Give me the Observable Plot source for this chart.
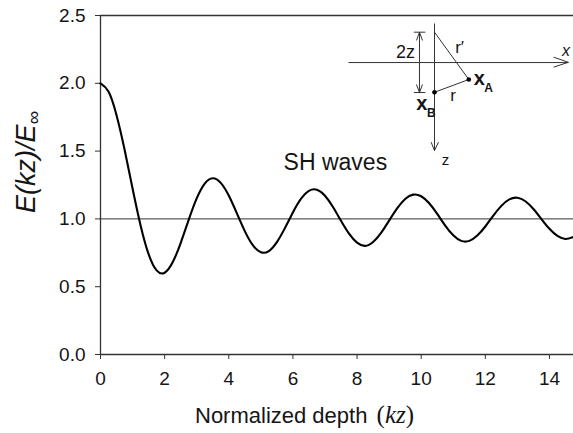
<!DOCTYPE html>
<html>
<head>
<meta charset="utf-8">
<script src="https://cdn.jsdelivr.net/npm/d3@7"></script>
<script src="https://cdn.jsdelivr.net/npm/@observablehq/plot@0.6"></script>
<style>
  html, body { margin: 0; padding: 0; background: #fff; }
  svg { display: block; }
</style>
</head>
<body>
<div id="chart"></div>
<script>
// Normalized depth kz (x) and energy ratio E(kz)/E∞ (y)
const depth = [0,0.25,0.5,0.75,1,1.25,1.5,1.75,2,2.25,2.5,2.75,3,3.25,3.5,3.75,4,4.25,4.5,4.75,
  5,5.25,5.5,5.75,6,6.25,6.5,6.75,7,7.25,7.5,7.75,8,8.25,8.5,8.75,9,9.25,9.5,9.75,
  10,10.25,10.5,10.75,11,11.25,11.5,11.75,12,12.25,12.5,12.75,13,13.25,13.5,13.75,14,14.25,14.5,14.75];
const ratio = [2.000,1.939,1.765,1.512,1.224,0.952,0.740,0.620,0.603,0.680,0.822,0.993,1.151,1.260,1.300,1.266,1.172,1.042,0.910,0.806,
  0.754,0.763,0.829,0.932,1.048,1.147,1.207,1.215,1.171,1.088,0.986,0.891,0.825,0.801,0.830,0.897,0.987,1.077,1.147,1.179,
  1.167,1.115,1.037,0.951,0.879,0.838,0.838,0.877,0.944,1.024,1.096,1.144,1.156,1.130,1.073,0.999,0.927,0.874,0.852,0.867];

const xTicks = [0,2,4,6,8,10,12,14];
const yTicks = [0,0.5,1.0,1.5,2.0,2.5];
const xDomain = [0,14.75];
const yDomain = [0,2.5];
const referenceLevel = [1];

// Inset diagram (in data units of the chart)
const insetSegments = [
  // x axis with open arrowhead
  [7.733,2.153,14.59,2.153],[14.13,2.193,14.59,2.155],[14.13,2.119,14.59,2.155],
  // z axis with open arrowhead
  [10.415,2.441,10.415,1.504],[10.31,1.566,10.415,1.504],[10.54,1.566,10.415,1.504],
  // triangle: mirror point – xA – xB
  [10.415,2.377,11.485,2.028],[11.485,2.028,10.415,1.934],
  // 2z dimension line
  [9.947,2.377,9.947,1.932],[9.77,2.377,10.13,2.377],[9.77,1.932,10.13,1.932],
  [9.854,2.316,9.947,2.377],[10.04,2.316,9.947,2.377],
  [9.854,1.991,9.947,1.932],[10.04,1.991,9.947,1.932]
];
const insetPoints = [[11.485,2.028],[10.415,1.934]];
const insetLabels = [
  {x:9.51,  y:2.190, t:"2z", size:18, style:"normal", weight:"normal", anchor:"middle"},
  {x:11.06, y:2.227, t:"r\u2032", size:17, style:"normal", weight:"normal", anchor:"start"},
  {x:10.91, y:1.873, t:"r", size:17, style:"normal", weight:"normal", anchor:"start"},
  {x:14.39, y:2.205, t:"x", size:16, style:"italic", weight:"normal", anchor:"start"},
  {x:10.64, y:1.401, t:"z", size:15, style:"normal", weight:"normal", anchor:"start"},
  {x:11.64, y:1.984, t:"x", size:20, style:"normal", weight:"bold", anchor:"start"},
  {x:11.97, y:1.934, t:"A", size:12, style:"normal", weight:"bold", anchor:"start"},
  {x:9.85,  y:1.800, t:"x", size:20, style:"normal", weight:"bold", anchor:"start"},
  {x:10.18, y:1.750, t:"B", size:12, style:"normal", weight:"bold", anchor:"start"}
];
const annotation = [{x:5.71, y:1.357, t:"SH waves"}];

const curve = depth.map((d, i) => ({kz: d, e: ratio[i]}));
const segs = insetSegments.map(s => ({x1:s[0], y1:s[1], x2:s[2], y2:s[3]}));
const pts = insetPoints.map(p => ({x:p[0], y:p[1]}));

const font = "'Liberation Sans', Arial, Helvetica, sans-serif";
const serif = "'Liberation Serif', 'Times New Roman', serif";
const ink = "#151515";

const labelMarks = insetLabels.map(l => Plot.text([l], {
  x: "x", y: "y", text: "t", fontSize: l.size, fontStyle: l.style, fontWeight: l.weight,
  textAnchor: l.anchor, lineAnchor: "bottom", fill: ink
}));

const chart = Plot.plot({
  width: 573,
  height: 433,
  marginLeft: 100,
  marginRight: 0,
  marginTop: 15,
  marginBottom: 79,
  style: {fontFamily: font, background: "#fff", color: ink},
  x: {domain: xDomain},
  y: {domain: yDomain},
  marks: [
    Plot.ruleY([yDomain[1]], {stroke: "#333", strokeWidth: 1.3}),
    Plot.ruleY(referenceLevel, {stroke: "#333", strokeWidth: 1}),
    Plot.ruleY([yDomain[0]], {stroke: "#333", strokeWidth: 1.3}),
    Plot.ruleX([xDomain[0]], {stroke: "#333", strokeWidth: 1.3}),
    Plot.axisX({ticks: xTicks, tickSize: 5, tickPadding: 12, fontSize: 19, label: null, stroke: "#333", fill: ink}),
    Plot.axisY({ticks: yTicks, tickFormat: d => d.toFixed(1), tickSize: 5, tickPadding: 10, fontSize: 19, label: null, stroke: "#333", fill: ink}),
    Plot.line(curve, {x: "kz", y: "e", curve: "natural", stroke: "#000", strokeWidth: 2.1}),
    Plot.link(segs, {x1: "x1", y1: "y1", x2: "x2", y2: "y2", stroke: "#333", strokeWidth: 1}),
    Plot.dot(pts, {x: "x", y: "y", r: 2.3, fill: "#000", stroke: null}),
    ...labelMarks,
    Plot.text(annotation, {x: "x", y: "y", text: "t", fontSize: 23, textAnchor: "start", lineAnchor: "bottom", fill: ink})
  ]
});

const svg = d3.select(chart);
// y-axis title: E(kz)/E∞
const yt = svg.append("text")
  .attr("transform", "translate(35,213) rotate(-90)")
  .attr("text-anchor", "start")
  .attr("font-family", font)
  .attr("font-style", "italic")
  .attr("font-size", 27)
  .attr("fill", ink);
yt.append("tspan").text("E(kz)/E");
yt.append("tspan").attr("font-size", 19).attr("dy", 5).text("\u221E");

// x-axis title: Normalized depth (kz)
const xt = svg.append("text")
  .attr("x", 195).attr("y", 423)
  .attr("text-anchor", "start")
  .attr("font-family", font)
  .attr("font-size", 22)
  .attr("fill", ink);
xt.append("tspan").text("Normalized depth ");
xt.append("tspan").attr("font-family", serif).attr("font-size", 25).attr("dx", 3).text("(");
xt.append("tspan").attr("font-family", serif).attr("font-style", "italic").attr("font-size", 25).text("kz");
xt.append("tspan").attr("font-family", serif).attr("font-size", 25).text(")");

document.getElementById("chart").appendChild(chart);
</script>
</body>
</html>
